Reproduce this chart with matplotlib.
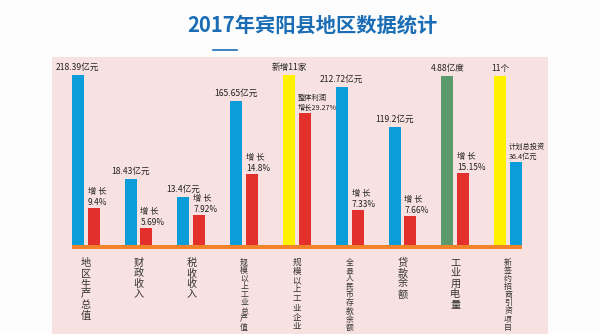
import numpy as np
import matplotlib
matplotlib.use("Agg")
import matplotlib.pyplot as plt

plt.rcParams['font.family'] = ['Noto Sans CJK SC', 'DejaVu Sans']

# 数据 (柱高为图中的视觉高度)
categories = ['地区生产总值', '财政收入', '税收收入', '规模以上工业总产值', '规模以上工业企业',
              '全县人民币存款余额', '贷款余额', '工业用电量', '新签约招商引资项目']
left_heights = [170, 66, 48, 144, 170, 158, 118, 169, 169]
left_colors = ['#0a9dd9', '#0a9dd9', '#0a9dd9', '#0a9dd9', '#fff100',
               '#0a9dd9', '#0a9dd9', '#5b9a6a', '#fff100']
left_labels = ['218.39亿元', '18.43亿元', '13.4亿元', '165.65亿元', '新增11家',
               '212.72亿元', '119.2亿元', '4.88亿度', '11个']
right_heights = [37, 17, 30, 71, 132, 35, 29, 72, 83]
right_colors = ['#e4302d'] * 8 + ['#0a9dd9']
right_labels = ['增 长\n9.4%', '增 长\n5.69%', '增 长\n7.92%', '增 长\n14.8%', '整体利润\n增长29.27%',
                '增 长\n7.33%', '增 长\n7.66%', '增 长\n15.15%', '计划总投资\n36.4亿元']

fig = plt.figure(figsize=(6, 3.34), dpi=100, facecolor='#fdfdfd')
ax = fig.add_axes([52/600, 0, 496/600, 277/334])
ax.set_facecolor('#f8e1e1')
for s in ax.spines.values():
    s.set_visible(False)
ax.set_xticks([])
ax.set_yticks([])
ax.set_xlim(-0.638, 8.756)
ax.set_ylim(-89, 188)

x = np.arange(len(categories))
w = 0.227
off = 0.149
ax.bar(x - off, left_heights, width=w, color=left_colors, zorder=2)
ax.bar(x + off, right_heights, width=w, color=right_colors, zorder=2)

# 底部橙色条
ax.fill_between([x[0] - off - w / 2, x[-1] + off + w / 2], -4, 0, color='#f1832a', zorder=3, lw=0)

for i in range(len(categories)):
    ax.annotate(left_labels[i], (x[i] - off, left_heights[i]), xytext=(0, 2),
                textcoords='offset points', ha='center', va='bottom', fontsize=6.2, color='#222222')
    small = len(right_labels[i].split('\n')[0]) > 3
    ax.annotate(right_labels[i], (x[i] + off - w / 2, right_heights[i]), xytext=(-1 if small else 0, 1),
                textcoords='offset points', ha='left', va='bottom', fontsize=5.2 if small else 6,
                linespacing=1.25, color='#222222')
    # 竖排类别文字, 逐字放置
    n = len(categories[i])
    pitch = min(10.5, 72 / (n - 0.1)) * 0.72  # px -> pt
    fs = 7.3 if n <= 6 else (6.2 if n == 8 else 5.7)
    for j, ch in enumerate(categories[i]):
        ax.annotate(ch, (x[i], -13), xytext=(0, -j * pitch), textcoords='offset points',
                    ha='center', va='top', fontsize=fs, color='#333333')

fig.text(312/600, 1 - 25/334, '2017年宾阳县地区数据统计', ha='center', va='center',
         fontsize=14.6, fontweight='bold', color='#1a6db5')
fig.add_artist(plt.Line2D([213/600, 237/600], [1 - 50/334, 1 - 50/334], color='#1a6db5', lw=1.2))

fig.savefig('out.png', dpi=100, facecolor=fig.get_facecolor())
